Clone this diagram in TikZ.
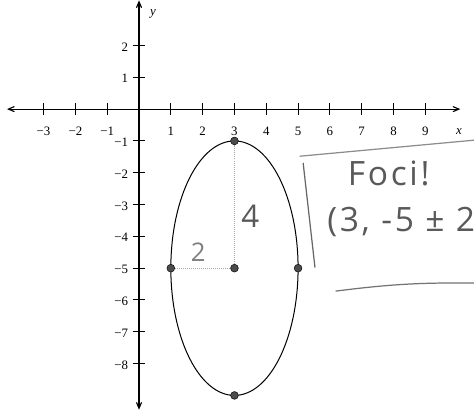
\documentclass[tikz,border=0pt]{standalone}
\usepackage{fontspec}
\setmainfont{Liberation Serif}
\newfontfamily\handfont{Open Sans}
\usetikzlibrary{arrows,calc}
\tikzstyle{axis}=[line width=1pt,<->,>=angle 45]
\tikzstyle{tck}=[line width=0.9pt]
\tikzstyle{dot}=[circle,fill=black!70,draw=black,inner sep=0,minimum size=7pt]
\tikzstyle{hand}=[draw=black!35,line width=0.8pt,densely dotted]
\tikzstyle{pen}=[draw=black!60,line width=1.1pt,line cap=round]
\tikzstyle{num}=[font=\fontsize{11.5}{13}\selectfont,inner sep=1pt]
\tikzstyle{note}=[text=black!65,font=\handfont\fontsize{30}{32}\selectfont\addfontfeature{LetterSpace=8},inner sep=0]
\newcommand{\signed}[1]{\ifnum#1<0 −\number\numexpr-#1\relax\else#1\fi}

\begin{document}
\begin{tikzpicture}
\clip (-4.37,-9.59) rectangle (10.53,3.43);
\coordinate (L) at (-4.15,0);
\coordinate (R) at (10.1,0);
\coordinate (T) at (0,3.42);
\coordinate (B) at (0,-9.45);
\draw[axis](L)--(R);
\draw[axis](B)--(T);
\node at (10.06,-0.72)[num]{\textit{x}};
\node at (0.44,2.99)[num]{\textit{y}};
% ticks
\foreach \i in {-3,-2,-1,1,2,3,4,5,6,7,8,9}
  {\draw[tck](\i,0.2)--(\i,-0.2);
   \node at (\i,-0.7)[num]{\signed{\i}};}
\foreach \j in {2,1,-1,-2,-3,-4,-5,-6,-7,-8}
  {\draw[tck](-0.2,\j)--(0.2,\j);
   \node at (-0.3,\j-0.04)[num,anchor=east]{\signed{\j}};}
% ellipse
\draw[line width=0.9pt](3,-5) ellipse (2 and 4);
\node (C) at (3,-5)[dot]{};
\node (V1) at (3,-1)[dot]{};
\node (V2) at (3,-9)[dot]{};
\node (W1) at (1,-5)[dot]{};
\node (W2) at (5,-5)[dot]{};
\draw[hand](C)--(V1);
\draw[hand](W1)--(C);
\node at (3.5,-3.36)[note,font=\handfont\fontsize{28}{30}\selectfont]{4};
\node at (1.86,-4.5)[note,font=\handfont\fontsize{23}{25}\selectfont,text=black!50]{2};
% foci note
\coordinate (N1) at (5.06,-1.48);
\coordinate (N2) at (10.6,-0.97);
\coordinate (N3) at (5.16,-1.70);
\coordinate (N4) at (5.53,-4.97);
\coordinate (N5) at (6.19,-5.72);
\coordinate (N6) at (10.6,-5.47);
\draw[pen,draw=black!45](N1)--(N2);
\draw[pen](N3)--(N4);
\draw[pen,draw=black!55](N5) to[bend left=4] (N6);
\node at (7.85,-2.01)[note]{Foci!};
\node at (5.91,-3.55)[note,anchor=west]{(3, -5 ± 2};
\end{tikzpicture}
\end{document}
